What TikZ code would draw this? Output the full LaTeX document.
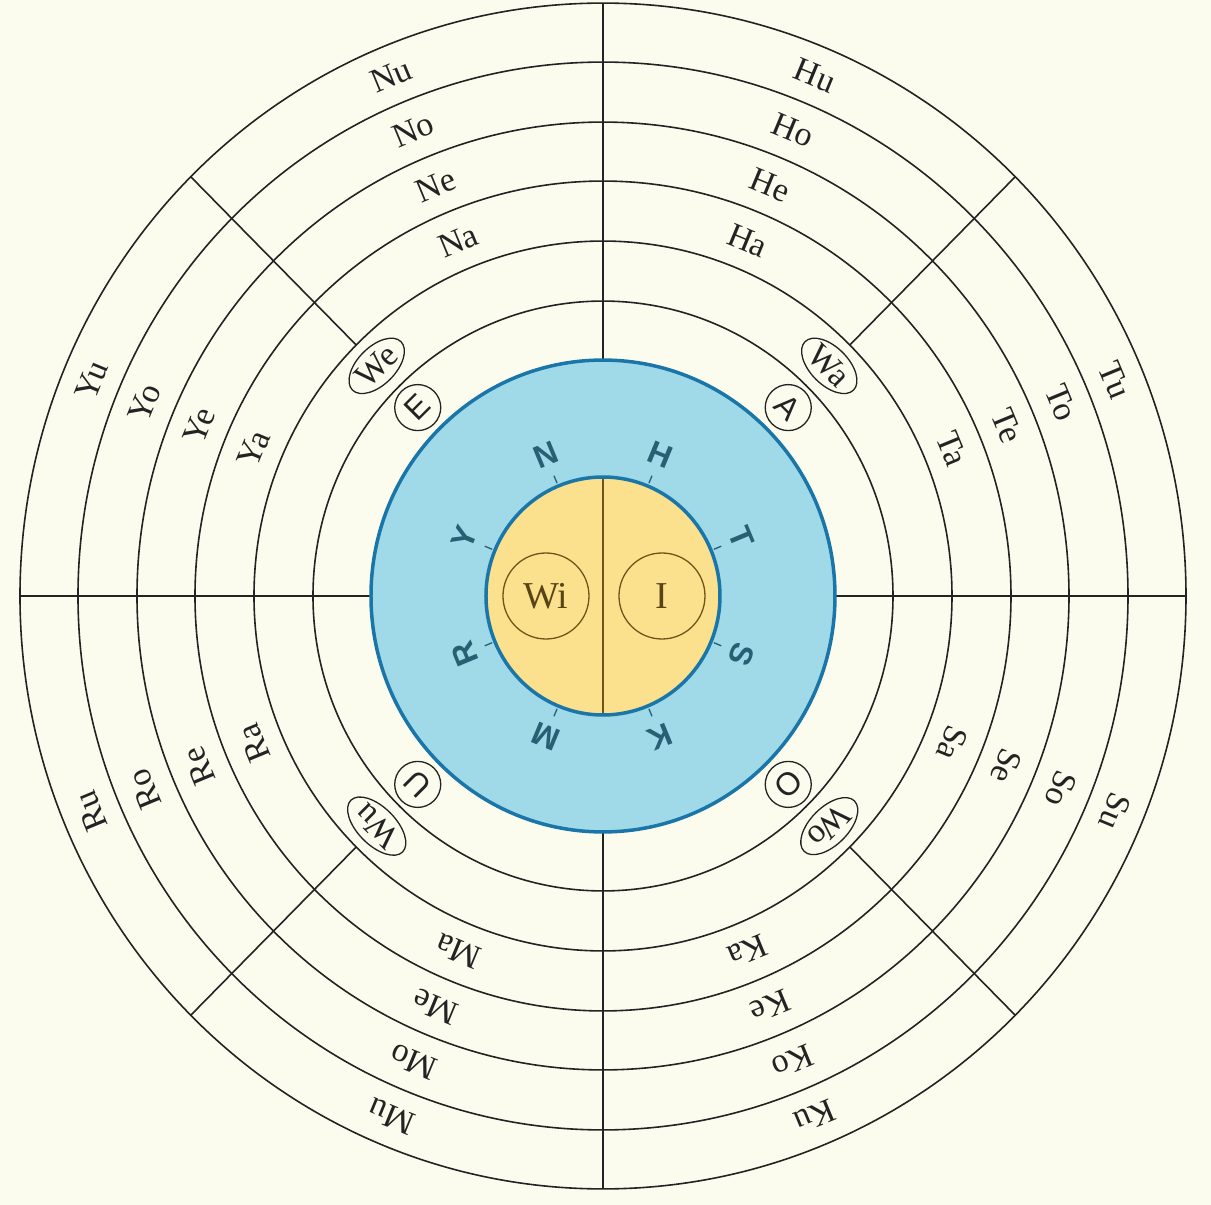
\documentclass[tikz,border=0pt]{standalone}
\usepackage{fontspec}
\setmainfont{Liberation Serif}
\setsansfont{Liberation Sans}
\usetikzlibrary{shapes.geometric}

\definecolor{paper}{RGB}{252,252,238}
\definecolor{inkline}{RGB}{35,35,35}
\definecolor{skyfill}{RGB}{160,217,231}
\definecolor{skyedge}{RGB}{26,118,168}
\definecolor{ochrefill}{RGB}{251,225,142}
\definecolor{ochreline}{RGB}{110,85,25}
\definecolor{tealink}{RGB}{40,95,115}

\begin{document}
\begin{tikzpicture}[
    x=1pt, y=1.017pt,
    ring/.style={draw=inkline, line width=1.6pt},
    syllable/.style={font=\fontsize{34}{36}\selectfont, text=inkline, inner sep=0pt},
    wsyl/.style={ellipse, draw=inkline, line width=1.3pt, font=\fontsize{34}{36}\selectfont, text=inkline, inner sep=2pt},
    vowel/.style={circle, draw=inkline, line width=1.3pt, font=\sffamily\fontsize{32}{34}\selectfont, text=inkline, minimum size=46pt, inner sep=0pt},
    consonant/.style={font=\sffamily\bfseries\fontsize{32}{34}\selectfont, text=tealink, inner sep=0pt},
    radtick/.style={draw=tealink, line width=1.3pt},
    center/.style={circle, draw=ochreline, line width=1.3pt, font=\fontsize{38}{40}\selectfont, text=ochreline!80!black, minimum size=86pt, inner sep=0pt}
]
\useasboundingbox (-603pt,-609pt) rectangle (608pt,596pt);
\fill[paper] (-603pt,-609pt) rectangle (608pt,596pt);

% rings and dividers
\draw[ring] (180:583) -- (0:583);
\draw[ring] (90:583) -- (270:583);
\draw[ring] (45:349) -- (45:583);
\draw[ring] (135:349) -- (135:583);
\draw[ring] (225:349) -- (225:583);
\draw[ring] (315:349) -- (315:583);
\draw[ring] (0,0) circle (583);
\draw[ring] (0,0) circle (525);
\draw[ring] (0,0) circle (466);
\draw[ring] (0,0) circle (408);
\draw[ring] (0,0) circle (349);
\draw[ring] (0,0) circle (290);

% blue disk and yellow core
\draw[draw=skyedge, fill=skyfill, line width=3.5pt] (0,0) circle (232);
\fill[ochrefill] (0,0) circle (117);
\draw[ochreline, line width=1.5pt] (90:117) -- (270:117);
\draw[skyedge, line width=3.5pt] (0,0) circle (117);
\node[center] (wi) at (-57,0) {Wi};
\node[center] (i) at (59,0) {I};

% consonants round the core
\node[consonant, rotate=22.5] (n) at (112.5:150) {N};
\node[consonant, rotate=-22.5] (h) at (67.5:150) {H};
\node[consonant, rotate=-67.5] (t) at (22.5:150) {T};
\node[consonant, rotate=-112.5] (s) at (-22.5:150) {S};
\node[consonant, rotate=-157.5] (k) at (-67.5:150) {K};
\node[consonant, rotate=157.5] (m) at (247.5:150) {M};
\node[consonant, rotate=112.5] (r) at (202.5:150) {R};
\node[consonant, rotate=67.5] (y) at (157.5:150) {Y};
\draw[radtick] (112.5:120) -- (112.5:128);
\draw[radtick] (67.5:120) -- (67.5:128);
\draw[radtick] (22.5:120) -- (22.5:128);
\draw[radtick] (-22.5:120) -- (-22.5:128);
\draw[radtick] (-67.5:120) -- (-67.5:128);
\draw[radtick] (247.5:120) -- (247.5:128);
\draw[radtick] (202.5:120) -- (202.5:128);
\draw[radtick] (157.5:120) -- (157.5:128);

% vowels on the diagonals
\node[vowel, rotate=45] (e) at (135:262) {E};
\node[vowel, rotate=-45] (a) at (45:262) {A};
\node[vowel, rotate=-135] (o) at (-45:262) {O};
\node[vowel, rotate=135] (u) at (225:262) {U};
\node[wsyl, rotate=45] (we) at (135:320) {We};
\node[wsyl, rotate=-45] (wa) at (45:320) {Wa};
\node[wsyl, rotate=-135] (wo) at (-45:320) {Wo};
\node[wsyl, rotate=135] (wu) at (225:320) {Wu};

% syllables, outer ring first
\node[syllable, rotate=22.5] (nu) at (112.5:554) {Nu};
\node[syllable, rotate=22.5] (no) at (112.5:496) {No};
\node[syllable, rotate=22.5] (ne) at (112.5:437) {Ne};
\node[syllable, rotate=22.5] (na) at (112.5:378) {Na};
\node[syllable, rotate=-22.5] (hu) at (67.5:554) {Hu};
\node[syllable, rotate=-22.5] (ho) at (67.5:496) {Ho};
\node[syllable, rotate=-22.5] (he) at (67.5:437) {He};
\node[syllable, rotate=-22.5] (ha) at (67.5:378) {Ha};
\node[syllable, rotate=-67.5] (tu) at (22.5:554) {Tu};
\node[syllable, rotate=-67.5] (to) at (22.5:496) {To};
\node[syllable, rotate=-67.5] (te) at (22.5:437) {Te};
\node[syllable, rotate=-67.5] (ta) at (22.5:378) {Ta};
\node[syllable, rotate=-112.5] (su) at (-22.5:554) {Su};
\node[syllable, rotate=-112.5] (so) at (-22.5:496) {So};
\node[syllable, rotate=-112.5] (se) at (-22.5:437) {Se};
\node[syllable, rotate=-112.5] (sa) at (-22.5:378) {Sa};
\node[syllable, rotate=-157.5] (ku) at (-67.5:554) {Ku};
\node[syllable, rotate=-157.5] (ko) at (-67.5:496) {Ko};
\node[syllable, rotate=-157.5] (ke) at (-67.5:437) {Ke};
\node[syllable, rotate=-157.5] (ka) at (-67.5:378) {Ka};
\node[syllable, rotate=157.5] (mu) at (247.5:554) {Mu};
\node[syllable, rotate=157.5] (mo) at (247.5:496) {Mo};
\node[syllable, rotate=157.5] (me) at (247.5:437) {Me};
\node[syllable, rotate=157.5] (ma) at (247.5:378) {Ma};
\node[syllable, rotate=112.5] (ru) at (202.5:554) {Ru};
\node[syllable, rotate=112.5] (ro) at (202.5:496) {Ro};
\node[syllable, rotate=112.5] (re) at (202.5:437) {Re};
\node[syllable, rotate=112.5] (ra) at (202.5:378) {Ra};
\node[syllable, rotate=67.5] (yu) at (157.5:554) {Yu};
\node[syllable, rotate=67.5] (yo) at (157.5:496) {Yo};
\node[syllable, rotate=67.5] (ye) at (157.5:437) {Ye};
\node[syllable, rotate=67.5] (ya) at (157.5:378) {Ya};
\end{tikzpicture}
\end{document}
